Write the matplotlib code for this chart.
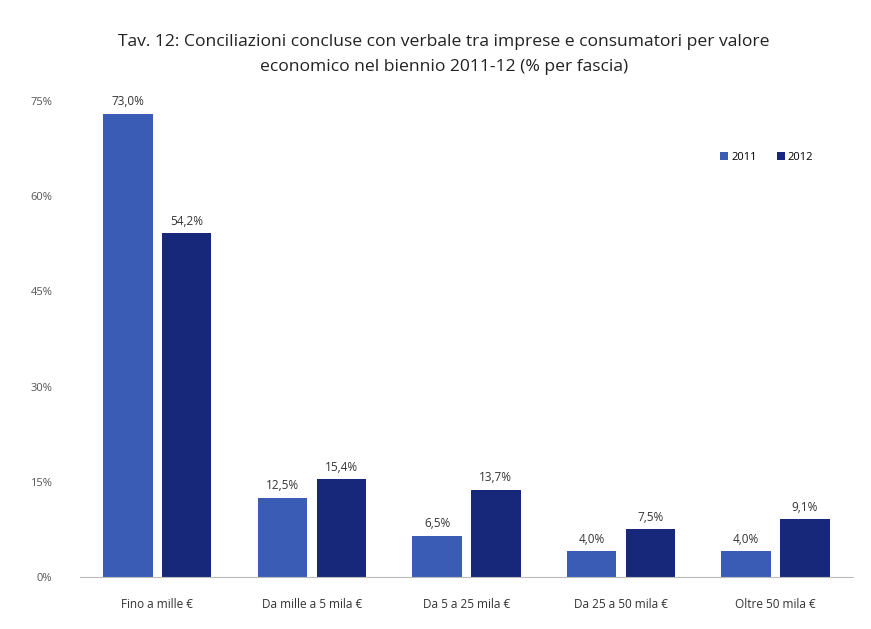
import matplotlib.pyplot as plt
import numpy as np

plt.rcParams['font.family'] = ['Open Sans', 'DejaVu Sans']

categories = ['Fino a mille €', 'Da mille a 5 mila €', 'Da 5 a 25 mila €',
              'Da 25 a 50 mila €', 'Oltre 50 mila €']
val_2011 = [73.0, 12.5, 6.5, 4.0, 4.0]
val_2012 = [54.2, 15.4, 13.7, 7.5, 9.1]
labels_2011 = ['73,0%', '12,5%', '6,5%', '4,0%', '4,0%']
labels_2012 = ['54,2%', '15,4%', '13,7%', '7,5%', '9,1%']
yticks = [0, 15, 30, 45, 60, 75]

c2011 = '#3a5cb4'
c2012 = '#17277a'

fig = plt.figure(figsize=(8.71, 6.29), dpi=100)
ax = fig.add_axes([0.092, 0.083, 0.887, 0.756])

x = np.arange(len(categories))
w = 0.32
off = 0.19
b1 = ax.bar(x - off, val_2011, w, color=c2011, label='2011')
b2 = ax.bar(x + off, val_2012, w, color=c2012, label='2012')

for bars, labs in ((b1, labels_2011), (b2, labels_2012)):
    for b, t in zip(bars, labs):
        ax.annotate(t, (b.get_x() + b.get_width() / 2, b.get_height()),
                    xytext=(0, 4), textcoords='offset points',
                    ha='center', va='bottom', fontsize=8.5, color='#333333',
                    annotation_clip=False)

ax.set_xlim(-0.5, len(categories) - 0.5)
ax.set_ylim(0, 75)
ax.set_yticks(yticks)
ax.set_yticklabels([f'{v}%' for v in yticks], fontsize=8, color='#555555')
ax.set_xticks(x)
ax.set_xticklabels(categories, fontsize=8.5, color='#333333')
ax.tick_params(axis='x', length=0, pad=15)
ax.tick_params(axis='y', length=0, pad=20)

for s in ('top', 'right', 'left'):
    ax.spines[s].set_visible(False)
ax.spines['bottom'].set_color('#bbbbbb')

ax.legend(loc='center right', bbox_to_anchor=(0.962, 0.882), frameon=False,
          ncol=2, fontsize=8, handlelength=0.7, handleheight=0.7,
          columnspacing=1.8, handletextpad=0.3)

fig.text(0.51, 0.933, 'Tav. 12: Conciliazioni concluse con verbale tra imprese e consumatori per valore',
         ha='center', va='center', fontsize=12.6, color='#222222')
fig.text(0.51, 0.893, 'economico nel biennio 2011-12 (% per fascia)',
         ha='center', va='center', fontsize=12.6, color='#222222')

fig.savefig('out.png', dpi=100)
